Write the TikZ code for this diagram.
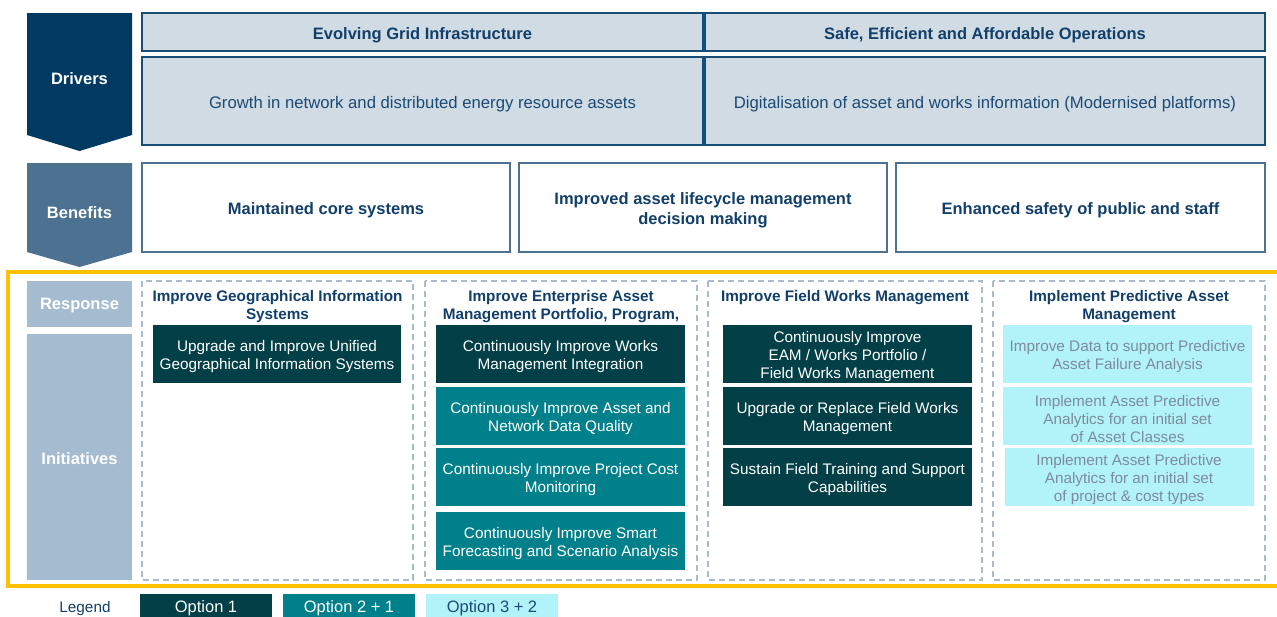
\documentclass[tikz,border=0pt]{standalone}
\usepackage{fontspec}
\setmainfont{Liberation Sans}
\definecolor{navyA}{HTML}{003A63}
\definecolor{steelB}{HTML}{4D7190}
\definecolor{paleC}{HTML}{A4BBD0}
\definecolor{drvfill}{HTML}{D0DBE3}
\definecolor{drvline}{HTML}{164E78}
\definecolor{titlenavy}{HTML}{123F6A}
\definecolor{bodynavy}{HTML}{1B4A75}
\definecolor{darkteal}{HTML}{023F47}
\definecolor{tealB}{HTML}{00808A}
\definecolor{cyanC}{HTML}{B2F3FA}
\definecolor{cyantext}{HTML}{7D8C9C}
\definecolor{goldA}{HTML}{FFC000}
\definecolor{dashcol}{HTML}{A9BCCF}
\newcommand{\bodyfont}{\fontsize{15.3}{18}\selectfont}
\newcommand{\bigbodyfont}{\fontsize{16.7}{20}\selectfont}
\newcommand{\headfont}{\fontsize{16.5}{19.5}\selectfont\bfseries}
% box node (no text) + its text node shifted slightly down
\newcommand{\tbox}[6]{\node[#1,#3] (#4) at (#5) {}; \node[#2] (#4t) at ([yshift=-3pt]#4.center) {#6};}
\tikzset{
  drvbox/.style={draw=drvline, line width=2pt, fill=drvfill, inner sep=0pt},
  drvheadtxt/.style={text=titlenavy, font=\headfont, inner sep=0pt, align=center},
  drvbodytxt/.style={text=bodynavy, font=\bigbodyfont, inner sep=0pt, align=center},
  benbox/.style={draw=steelB, line width=1.8pt, fill=white, inner sep=0pt, minimum height=89pt},
  bentxt/.style={text=titlenavy, font=\headfont, inner sep=0pt, align=center},
  colframe/.style={draw=dashcol, line width=1.6pt, dash pattern=on 6pt off 4pt},
  coltitle/.style={text=titlenavy, font=\bodyfont\bfseries, align=center, inner sep=0pt},
  initbox/.style={inner sep=0pt, minimum width=249pt, minimum height=58pt},
  onebox/.style={initbox, fill=darkteal},
  twobox/.style={initbox, fill=tealB},
  threebox/.style={initbox, fill=cyanC},
  whitetxt/.style={text=white, font=\bodyfont, inner sep=0pt, align=center},
  greytxt/.style={text=cyantext, font=\bodyfont, inner sep=0pt, align=center},
  sidelabel/.style={text=white, font=\headfont, inner sep=0pt},
  legbox/.style={inner sep=0pt, minimum width=132pt, minimum height=26pt},
  legtxt/.style={inner sep=0pt, font=\fontsize{16.5}{19}\selectfont}
}
\begin{document}
\begin{tikzpicture}[x=1pt,y=-1pt]
\useasboundingbox (0,0) rectangle (1277,616);
% --- Drivers arrow
\fill[navyA] (27,13) -- (132,13) -- (132,135) -- (79.5,151) -- (27,135) -- cycle;
\node[sidelabel] (drv) at (79.5,79) {Drivers};
% --- Drivers boxes
\tbox{drvbox}{drvheadtxt}{minimum width=561pt, minimum height=38pt}{evg}{422.5,32}{Evolving Grid Infrastructure}
\tbox{drvbox}{drvheadtxt}{minimum width=560pt, minimum height=38pt}{safe}{985,32}{Safe, Efficient and Affordable Operations}
\tbox{drvbox}{drvbodytxt}{minimum width=561pt, minimum height=88pt}{grow}{422.5,101}{Growth in network and distributed energy resource assets}
\tbox{drvbox}{drvbodytxt}{minimum width=560pt, minimum height=88pt}{dig}{985,101}{Digitalisation of asset and works information (Modernised platforms)}
% --- Benefits arrow
\fill[steelB] (27,163) -- (132,163) -- (132,252) -- (79.5,267) -- (27,252) -- cycle;
\node[sidelabel] (ben) at (79.5,213) {Benefits};
\tbox{benbox}{bentxt}{minimum width=368pt}{b1}{326,207.5}{Maintained core systems}
\tbox{benbox}{bentxt}{minimum width=368pt}{b2}{703,207.5}{Improved asset lifecycle management\\decision making}
\tbox{benbox}{bentxt}{minimum width=369pt}{b3}{1080.5,207.5}{Enhanced safety of public and staff}
% --- Gold frame
\draw[goldA, line width=3.5pt] (8,272) rectangle (1282,586);
% --- Response / Initiatives
\fill[paleC] (27,281) rectangle (132,327);
\node[sidelabel] (resp) at (79.5,305.5) {Response};
\fill[paleC] (27,334) rectangle (132,580);
\node[sidelabel] (init) at (79.5,459) {Initiatives};
% --- Columns
\draw[colframe] (142,281) rectangle (413,580);
\draw[colframe] (425,281) rectangle (697,580);
\draw[colframe] (708,281) rectangle (982,580);
\draw[colframe] (993,281) rectangle (1265,580);
\node[coltitle] (t1) at (277.5,307) {Improve Geographical Information\\Systems};
\node[coltitle] (t2) at (561,307) {Improve Enterprise Asset\\Management Portfolio, Program,};
\node[coltitle] (t3) at (845,298) {Improve Field Works Management};
\node[coltitle] (t4) at (1129,307) {Implement Predictive Asset\\Management};
% column 1
\tbox{onebox}{whitetxt}{minimum width=248pt}{c1a}{277,354}{Upgrade and Improve Unified\\Geographical Information Systems}
% column 2
\tbox{onebox}{whitetxt}{}{c2a}{560.5,354}{Continuously Improve Works\\Management Integration}
\tbox{twobox}{whitetxt}{}{c2b}{560.5,416}{Continuously Improve Asset and\\Network Data Quality}
\tbox{twobox}{whitetxt}{}{c2c}{560.5,477}{Continuously Improve Project Cost\\Monitoring}
\tbox{twobox}{whitetxt}{}{c2d}{560.5,541}{Continuously Improve Smart\\Forecasting and Scenario Analysis}
% column 3
\tbox{onebox}{whitetxt}{}{c3a}{847.5,354}{Continuously Improve\\EAM / Works Portfolio /\\Field Works Management}
\tbox{onebox}{whitetxt}{}{c3b}{847.5,416}{Upgrade or Replace Field Works\\Management}
\tbox{onebox}{whitetxt}{}{c3c}{847.5,477}{Sustain Field Training and Support\\Capabilities}
% column 4
\tbox{threebox}{greytxt}{}{c4a}{1127.5,354}{Improve Data to support Predictive\\Asset Failure Analysis}
\tbox{threebox}{greytxt}{}{c4b}{1127.5,416}{Implement Asset Predictive\\Analytics for an initial set\\of Asset Classes}
\tbox{threebox}{greytxt}{}{c4c}{1129,477}{Implement Asset Predictive\\Analytics for an initial set\\of project \& cost types}
% --- Legend
\node[text=titlenavy, font=\bodyfont, inner sep=0pt] (leg) at (85,608.5) {Legend};
\node[legbox, fill=darkteal] (l1) at (206,607) {};
\node[legtxt, text=white] (l1t) at (206,608.5) {Option 1};
\node[legbox, fill=tealB] (l2) at (349,607) {};
\node[legtxt, text=white] (l2t) at (349,608.5) {Option 2 + 1};
\node[legbox, fill=cyanC] (l3) at (492,607) {};
\node[legtxt, text=bodynavy] (l3t) at (492,608.5) {Option 3 + 2};
\end{tikzpicture}
\end{document}
